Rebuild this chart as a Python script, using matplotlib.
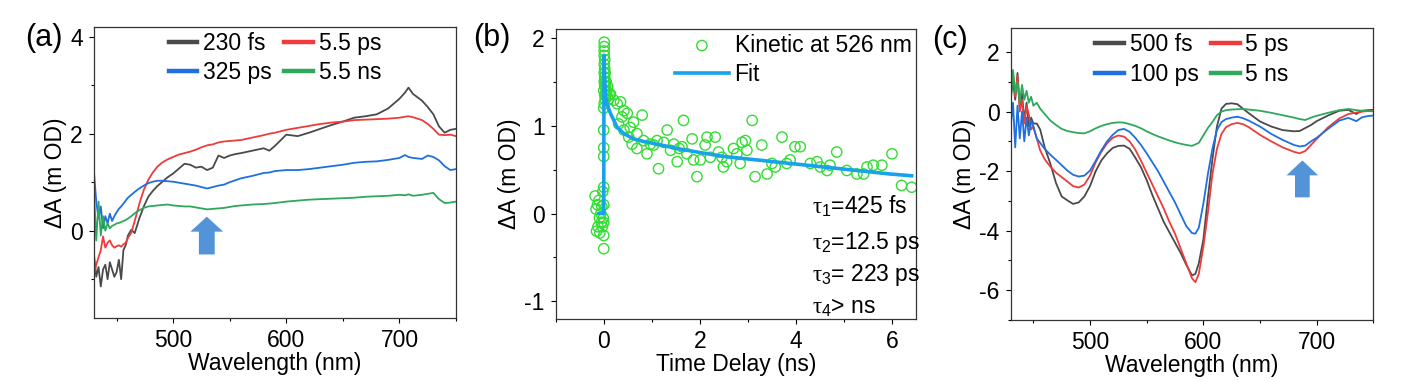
import numpy as np
import matplotlib
matplotlib.use("Agg")
import matplotlib.pyplot as plt
from matplotlib.ticker import MultipleLocator

plt.rcParams['font.family'] = ['Liberation Sans', 'DejaVu Sans']
plt.rcParams['font.size'] = 16.5
plt.rcParams['mathtext.fontset'] = 'custom'
plt.rcParams['mathtext.it'] = 'Liberation Serif'
plt.rcParams['mathtext.rm'] = 'Liberation Serif'
plt.rcParams['mathtext.sf'] = 'Liberation Sans'
plt.rcParams['axes.unicode_minus'] = False

# ---- panel (a): TA spectra ----
wl_a = [430, 432, 434, 436, 438, 440, 442, 444, 446, 448, 450, 452, 454, 456, 458, 460, 463, 466,
        470, 474, 478, 482, 486, 490, 495, 500, 505, 510, 515, 520, 525, 530, 535, 540, 545, 550,
        555, 560, 570, 580, 585, 590, 600, 610, 620, 630, 640, 650, 660, 670, 680, 690, 700, 705,
        708, 712, 720, 725, 730, 735, 740, 745, 750]
a_230fs = [-0.5, -0.95, -0.75, -1.15, -0.8, -0.7, -1.0, -0.65, -0.8, -0.95, -0.85, -0.6, -1.0, -0.4,
           -0.3, -0.1, 0.02, -0.05, 0.25, 0.5, 0.7, 0.82, 0.92, 1.0, 1.1, 1.18, 1.28, 1.38, 1.36, 1.3,
           1.32, 1.25, 1.3, 1.55, 1.5, 1.55, 1.58, 1.6, 1.65, 1.7, 1.65, 1.75, 1.98, 1.95, 2.02, 2.1,
           2.18, 2.25, 2.33, 2.36, 2.4, 2.52, 2.72, 2.85, 2.95, 2.82, 2.68, 2.55, 2.4, 2.15, 2.02,
           2.08, 2.1]
a_5p5ps = [-0.9, -0.7, -0.55, -0.4, -0.12, -0.35, -0.25, -0.2, -0.3, -0.35, -0.32, -0.3, -0.33, -0.28,
           -0.25, -0.15, -0.04, 0.2, 0.55, 0.84, 1.05, 1.2, 1.32, 1.4, 1.47, 1.52, 1.57, 1.6, 1.63,
           1.67, 1.72, 1.76, 1.78, 1.82, 1.84, 1.85, 1.86, 1.87, 1.92, 1.97, 2.0, 2.02, 2.08, 2.12,
           2.16, 2.2, 2.23, 2.25, 2.28, 2.29, 2.3, 2.31, 2.33, 2.35, 2.36, 2.34, 2.28, 2.2, 2.1, 1.98,
           1.97, 1.98, 1.95]
a_325ps = [1.2, 0.6, 0.25, 0.5, 0.05, 0.3, 0.15, 0.35, 0.2, 0.3, 0.38, 0.45, 0.5, 0.56, 0.62, 0.68,
           0.74, 0.8, 0.87, 0.93, 0.98, 1.01, 1.03, 1.03, 1.02, 1.01, 0.99, 0.97, 0.95, 0.93, 0.9,
           0.87, 0.9, 0.93, 0.95, 1.0, 1.04, 1.08, 1.13, 1.19, 1.2, 1.23, 1.25, 1.25, 1.27, 1.3,
           1.33, 1.36, 1.4, 1.42, 1.43, 1.46, 1.5, 1.56, 1.52, 1.5, 1.48, 1.55, 1.52, 1.45, 1.33,
           1.25, 1.27]
a_5p5ns = [0.8, -0.2, 0.6, -0.1, 0.3, 0.0, 0.15, 0.05, 0.1, 0.12, 0.15, 0.16, 0.18, 0.2, 0.22, 0.25,
           0.3, 0.36, 0.42, 0.47, 0.5, 0.51, 0.52, 0.53, 0.54, 0.52, 0.51, 0.5, 0.5, 0.48, 0.46,
           0.44, 0.45, 0.46, 0.47, 0.49, 0.51, 0.52, 0.54, 0.55, 0.56, 0.57, 0.6, 0.62, 0.64, 0.65,
           0.66, 0.67, 0.68, 0.7, 0.71, 0.72, 0.74, 0.73, 0.75, 0.72, 0.74, 0.76, 0.78, 0.65, 0.57,
           0.58, 0.6]
labels_a = ['230 fs', '5.5 ps', '325 ps', '5.5 ns']

# ---- panel (b): kinetic at 526 nm ----
t_kin = [-0.18, -0.16, -0.15, -0.13, -0.12, -0.1, -0.09, -0.08, -0.06, -0.05, -0.04, -0.03, -0.02,
         -0.01, 0.0, 0.0, 0.0, 0.0, 0.0, 0.0, 0.0, 0.0, 0.0, 0.0, 0.01, 0.01, 0.01, 0.01, 0.01,
         0.01, 0.01, 0.01, 0.02, 0.02, 0.02, 0.02, 0.02, 0.03, 0.03, 0.03, 0.04, 0.04, 0.05, 0.05,
         0.06, 0.07, 0.08, 0.1, 0.12,
         0.14, 0.21, 0.28, 0.35, 0.42, 0.38, 0.49, 0.31, 0.42, 0.55, 0.62, 0.52, 0.69, 0.80, 0.59,
         0.83, 0.97, 1.11, 1.14, 1.25, 1.32, 1.46, 1.57, 1.66, 1.73, 1.84, 1.94, 2.01, 2.15, 2.22,
         2.32, 2.39, 2.49, 2.56, 2.70, 2.77, 2.88, 2.95, 3.09, 3.15, 3.29, 3.40, 3.57, 3.71, 3.81,
         3.98, 4.09, 4.30, 4.51, 4.65, 4.85, 5.06, 5.27, 5.41, 5.61, 5.79, 6.00, 6.20, 6.41,
         0.69, 0.90, 1.04, 1.39, 1.53, 1.63, 1.87, 2.11, 2.46, 2.84, 2.98, 3.50, 3.88, 4.44, 4.71,
         5.48]
a_kin = [0.2, 0.05, -0.2, 0.1, -0.15, 0.15, -0.05, -0.22, 0.0, -0.1, 0.08, -0.15, 0.25,
         -0.05, -0.4, -0.25, -0.1, 0.1, 0.3, 0.65, 0.75, 0.95, 1.2, 1.4, 1.95, 1.9, 1.85, 1.8, 1.7,
         1.6, 1.5, 1.25, 1.75, 1.65, 1.55, 1.45, 1.35, 1.6, 1.5, 1.3, 1.45, 1.35, 1.5, 1.4,
         1.38, 1.33, 1.45, 1.3, 1.35,
         1.36, 1.29, 1.25, 1.27, 1.17, 1.10, 1.14, 1.02, 0.95, 0.98, 1.04, 0.87, 0.91, 1.12, 0.79,
         0.83, 0.79, 0.83, 0.51, 0.81, 0.95, 0.79, 0.74, 1.06, 0.68, 0.85, 0.42, 0.61, 0.87, 0.64,
         0.87, 0.70, 0.53, 0.59, 0.74, 0.68, 0.81, 0.83, 1.06, 0.42, 0.78, 0.45, 0.53, 0.87, 0.57,
         0.76, 0.76, 0.57, 0.53, 0.49, 0.70, 0.49, 0.45, 0.45, 0.55, 0.55, 0.68, 0.32, 0.30,
         0.74, 0.68, 0.78, 0.72, 0.59, 0.76, 0.61, 0.78, 0.64, 0.57, 0.72, 0.57, 0.61, 0.59, 0.55,
         0.53]
fit_t = [-0.1, 0.0, 0.005, 0.02, 0.035, 0.07, 0.14, 0.28, 0.42, 0.62, 0.83, 1.11, 1.53, 1.94,
         2.49, 3.19, 3.88, 4.57, 5.27, 5.96, 6.41]
fit_a = [0, 0, 1.8, 1.55, 1.35, 1.24, 1.14, 0.98, 0.91, 0.85, 0.82, 0.79, 0.74, 0.70, 0.65,
         0.61, 0.57, 0.53, 0.49, 0.45, 0.43]
taus = [r'$\tau_\mathsf{1}$=425 fs', r'$\tau_\mathsf{2}$=12.5 ps',
        r'$\tau_\mathsf{3}$= 223 ps', r'$\tau_\mathsf{4}$> ns']
tau_y = [0.387, 0.262, 0.152, 0.041]

# ---- panel (c): TA spectra ----
wl_c = [430, 432, 434, 436, 438, 440, 442, 444, 446, 448, 450, 453, 456, 460, 465, 470, 475, 480,
        485, 490, 495, 500, 505, 510, 515, 520, 525, 530, 535, 540, 545, 550, 555, 560, 565, 570,
        575, 580, 585, 590, 593, 596, 600, 604, 608, 612, 616, 620, 625, 630, 635, 640, 650, 660,
        670, 680, 685, 690, 695, 700, 710, 720, 728, 735, 740, 745, 750]
c_500fs = [0.5, 1.0, 0.4, 1.3, 0.2, 0.6, -0.3, 0.3, -0.5, -0.2, -0.4, -0.4, -0.6, -1.2, -1.75, -2.4,
           -2.85, -2.98, -3.1, -3.05, -2.85, -2.5, -2.0, -1.64, -1.4, -1.22, -1.15, -1.14, -1.25,
           -1.55, -1.87, -2.3, -2.8, -3.25, -3.7, -4.05, -4.4, -4.75, -5.15, -5.5, -5.45, -5.1,
           -4.3, -2.9, -1.6, -0.5, 0.1, 0.26, 0.28, 0.25, 0.1, -0.05, -0.33, -0.5, -0.62, -0.66,
           -0.65, -0.55, -0.45, -0.32, -0.13, 0.03, 0.06, -0.08, 0.03, 0.05, 0.06]
c_5ps = [0.6, 1.3, 0.5, 1.2, 0.0, 0.4, -0.4, 0.2, -0.1, -0.6, -0.5, -0.9, -1.3, -1.6, -1.85, -2.05,
         -2.2, -2.35, -2.5, -2.55, -2.45, -2.15, -1.7, -1.35, -1.07, -0.88, -0.8, -0.84, -1.0,
         -1.28, -1.65, -2.05, -2.45, -2.85, -3.25, -3.7, -4.1, -4.6, -5.1, -5.6, -5.73, -5.45,
         -4.55, -3.4, -2.1, -1.25, -0.75, -0.52, -0.42, -0.38, -0.42, -0.52, -0.78, -1.0, -1.2,
         -1.35, -1.4, -1.32, -1.12, -0.92, -0.53, -0.23, -0.08, -0.03, 0.0, 0.02, 0.03]
c_100ps = [-0.5, 0.3, -1.2, 0.2, -0.9, 0.0, -1.0, -0.2, -0.8, -0.3, -0.5, -0.9, -1.05, -1.25, -1.45,
           -1.62, -1.8, -1.98, -2.12, -2.18, -2.15, -1.98, -1.65, -1.3, -1.0, -0.78, -0.62, -0.58,
           -0.68, -0.88, -1.12, -1.4, -1.7, -2.0, -2.35, -2.7, -3.05, -3.45, -3.85, -4.08, -4.1,
           -3.9, -3.1, -2.1, -1.25, -0.62, -0.35, -0.25, -0.2, -0.17, -0.22, -0.3, -0.5, -0.75,
           -0.95, -1.12, -1.17, -1.14, -1.0, -0.88, -0.58, -0.3, -0.21, -0.32, -0.19, -0.15, -0.13]
c_5ns = [0.3, 1.4, 0.6, 1.0, 0.3, 0.9, 0.4, 0.7, 0.3, 0.5, 0.2, 0.3, 0.1, -0.08, -0.3, -0.45, -0.58,
         -0.65, -0.69, -0.72, -0.73, -0.66, -0.56, -0.48, -0.42, -0.38, -0.36, -0.37, -0.42, -0.48,
         -0.56, -0.66, -0.75, -0.83, -0.9, -0.97, -1.03, -1.08, -1.12, -1.15, -1.1, -1.05, -0.8,
         -0.55, -0.35, -0.12, 0.0, 0.05, 0.07, 0.08, 0.09, 0.07, 0.03, -0.04, -0.12, -0.2, -0.25,
         -0.28, -0.2, -0.14, -0.04, 0.05, 0.09, 0.05, 0.03, 0.02, 0.01]
labels_c = ['500 fs', '5 ps', '100 ps', '5 ns']

colors = ['#4a4a4a', '#ee3b3b', '#1f6fe0', '#2ea85a']
arrow_col = '#5394d8'

fig = plt.figure(figsize=(14.05, 3.82), dpi=100)
W, H = 1405, 382


def make_axes(l, r, t, b):
    return fig.add_axes([l / W, 1 - b / H, (r - l) / W, (b - t) / H])


def style(ax):
    ax.tick_params(which='both', direction='out', top=False, right=False, pad=4.5)
    ax.tick_params(which='major', length=3.5, width=0.8)
    ax.tick_params(which='minor', length=2.2, width=0.8)
    for s in ax.spines.values():
        s.set_linewidth(0.9)
        s.set_color('#333333')


def spectra_legend(ax):
    # row 1: first two labels, row 2: last two
    h, l = ax.get_legend_handles_labels()
    order = [0, 2, 1, 3]
    leg = ax.legend([h[i] for i in order], [l[i] for i in order], loc='upper center', ncol=2,
                    frameon=False, handlelength=1.25, handletextpad=0.25, columnspacing=0.55,
                    labelspacing=0.3, borderaxespad=0.0, borderpad=0.2)
    for ln in leg.get_lines():
        ln.set_linewidth(3.2)


# (a)
ax = make_axes(94, 456, 27, 318)
for y, c, lab in zip([a_230fs, a_5p5ps, a_325ps, a_5p5ns], colors, labels_a):
    ax.plot(wl_a, y, color=c, lw=1.3, label=lab)
spectra_legend(ax)
ax.arrow(529.7, -0.49, 0, 0.78, width=14, head_width=29, head_length=0.31,
         length_includes_head=True, color=arrow_col, ec='none')
ax.set_xlim(430, 750)
ax.set_ylim(-1.8, 4.2)
ax.xaxis.set_major_locator(MultipleLocator(100))
ax.xaxis.set_minor_locator(MultipleLocator(50))
ax.yaxis.set_major_locator(MultipleLocator(2))
ax.yaxis.set_minor_locator(MultipleLocator(1))
ax.set_xlabel('Wavelength (nm)', labelpad=0)
ax.set_ylabel('ΔA (m OD)', labelpad=2)
style(ax)

# (b)
ax = make_axes(555.7, 916, 29, 319)
ax.scatter(t_kin, a_kin, s=55, facecolors='none', edgecolors='#33dd33', linewidths=1.0,
           label='Kinetic at 526 nm', zorder=2)
ax.plot(fit_t, fit_a, color='#18a2ec', lw=2.6, label='Fit', zorder=3)
ax.legend(loc='upper right', frameon=False, handlelength=2.35, handletextpad=0.25,
          labelspacing=0.3, borderaxespad=0.0, borderpad=0.2, scatterpoints=1)
for s, yy in zip(taus, tau_y):
    ax.text(0.71, yy, s, transform=ax.transAxes, ha='left', va='center', fontsize=16.5)
ax.set_xlim(-1, 6.5)
ax.set_ylim(-1.2, 2.1)
ax.xaxis.set_major_locator(MultipleLocator(2))
ax.xaxis.set_minor_locator(MultipleLocator(1))
ax.yaxis.set_major_locator(MultipleLocator(1))
ax.yaxis.set_minor_locator(MultipleLocator(0.5))
ax.set_xlabel('Time Delay (ns)', labelpad=0)
ax.set_ylabel('ΔA (m OD)', labelpad=2)
style(ax)

# (c)
ax = make_axes(1010.7, 1373.3, 28.3, 320)
for y, c, lab in zip([c_500fs, c_5ps, c_100ps, c_5ns], colors, labels_c):
    ax.plot(wl_c, y, color=c, lw=1.3, label=lab)
spectra_legend(ax)
ax.arrow(687.4, -2.88, 0, 1.24, width=13, head_width=28, head_length=0.5,
         length_includes_head=True, color=arrow_col, ec='none')
ax.set_xlim(430, 750)
ax.set_ylim(-7, 2.8)
ax.xaxis.set_major_locator(MultipleLocator(100))
ax.xaxis.set_minor_locator(MultipleLocator(50))
ax.yaxis.set_major_locator(MultipleLocator(2))
ax.yaxis.set_minor_locator(MultipleLocator(1))
ax.set_xlabel('Wavelength (nm)', labelpad=0)
ax.set_ylabel('ΔA (m OD)', labelpad=2)
style(ax)

for x, y, s in [(44, 38, '(a)'), (492, 38, '(b)'), (950, 40, '(c)')]:
    fig.text(x / W, 1 - y / H, s, fontsize=22, ha='center', va='center')

fig.savefig('out.png', dpi=100)
